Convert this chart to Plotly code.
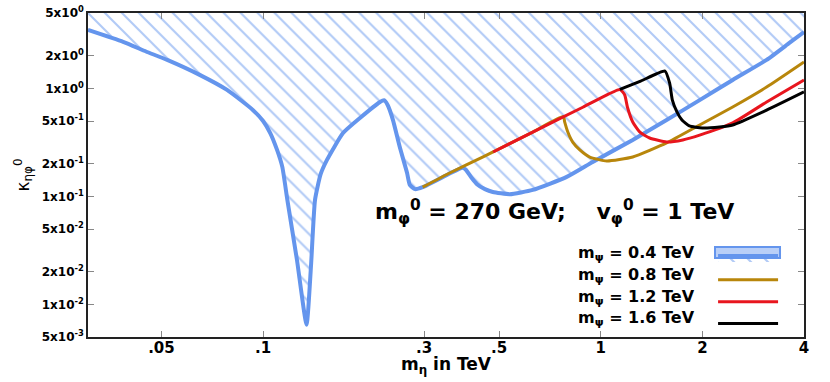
import math
import plotly.graph_objects as go

# ---- data ----
X_RANGE = [0.0303, 4.0]
Y_RANGE = [0.005, 5.0]

blue_x = [0.0303, 0.0385, 0.045, 0.052, 0.0651, 0.0782, 0.0934, 0.100, 0.105, 0.110,
          0.114, 0.118, 0.126, 0.1345, 0.1387, 0.1425, 0.148, 0.1546, 0.1725, 0.1936,
          0.222, 0.228, 0.234, 0.2425, 0.254, 0.267, 0.272, 0.282, 0.297, 0.357,
          0.39, 0.398, 0.415, 0.43, 0.454, 0.479, 0.538, 0.629, 0.793, 0.947,
          1.244, 1.567, 1.963, 2.46, 3.1, 3.62, 4.0]
blue_y = [3.48, 2.7, 2.2, 1.84, 1.33, 0.97, 0.63, 0.50, 0.387, 0.27,
          0.188, 0.093, 0.0258, 0.0065, 0.0232, 0.093, 0.16, 0.218, 0.387, 0.533,
          0.75, 0.78, 0.70, 0.51, 0.287, 0.165, 0.128, 0.117, 0.122, 0.163,
          0.185, 0.178, 0.148, 0.13, 0.117, 0.110, 0.105, 0.115, 0.152, 0.209,
          0.334, 0.51, 0.78, 1.2, 1.84, 2.64, 3.33]

gold_x = [0.297, 0.357, 0.45, 0.629, 0.775, 0.782, 0.799, 0.826, 0.867, 0.928,
          1.042, 1.244, 1.567, 1.963, 2.46, 3.1, 4.0]
gold_y = [0.122, 0.165, 0.234, 0.395, 0.55, 0.49, 0.395, 0.319, 0.27, 0.232,
          0.213, 0.232, 0.313, 0.459, 0.674, 1.03, 1.76]

red_x = [0.48, 0.629, 0.885, 1.14, 1.178, 1.20, 1.244, 1.304, 1.396, 1.567,
         1.75, 1.963, 2.46, 3.1, 4.0]
red_y = [0.258, 0.395, 0.67, 0.98, 0.87, 0.67, 0.49, 0.396, 0.348, 0.32,
         0.334, 0.37, 0.48, 0.75, 1.2]

black_x = [1.14, 1.313, 1.55, 1.6, 1.63, 1.68, 1.74, 1.83, 2.0, 2.25, 2.46, 3.1, 4.0]
black_y = [0.98, 1.17, 1.45, 1.12, 0.78, 0.61, 0.51, 0.45, 0.43, 0.44, 0.459, 0.63, 0.93]

series_names = ["m<sub>ψ</sub> = 0.4 TeV", "m<sub>ψ</sub> = 0.8 TeV",
                "m<sub>ψ</sub> = 1.2 TeV", "m<sub>ψ</sub> = 1.6 TeV"]

x_tickvals = [0.05, 0.1, 0.3, 0.5, 1, 2, 4]
x_ticktext = [".05", ".1", ".3", ".5", "1", "2", "4"]
y_tickvals = [5e-3, 1e-2, 2e-2, 5e-2, 1e-1, 2e-1, 5e-1, 1, 2, 5]
y_ticktext = ["5x10<sup>-3</sup>", "1x10<sup>-2</sup>", "2x10<sup>-2</sup>",
              "5x10<sup>-2</sup>", "1x10<sup>-1</sup>", "2x10<sup>-1</sup>",
              "5x10<sup>-1</sup>", "1x10<sup>0</sup>", "2x10<sup>0</sup>",
              "5x10<sup>0</sup>"]

BLUE = "#6495ED"
GOLD = "#B8860B"
RED = "#E8161E"
BLACK = "#000000"
FONT = "DejaVu Sans, Liberation Sans, Arial"
SMOOTH = 0.5
EPS = 1e-6

fig = go.Figure()

# upper boundary of the hatched region (top of the axis)
fig.add_trace(go.Scatter(x=X_RANGE, y=[Y_RANGE[1], Y_RANGE[1]], mode="lines",
                         line=dict(width=0, color=BLUE), showlegend=False,
                         hoverinfo="skip"))
fig.add_trace(go.Scatter(x=blue_x, y=blue_y, mode="lines", name=" ",
                         line=dict(color=BLUE, width=4, shape="spline",
                                   smoothing=SMOOTH),
                         fill="tonexty", fillcolor="rgba(0,0,0,0)",
                         fillpattern=dict(shape="\\", fgcolor=BLUE,
                                          bgcolor="rgba(255,255,255,0)",
                                          size=12, solidity=0.18)))
fig.add_trace(go.Scatter(x=gold_x, y=gold_y, mode="lines", name=" ",
                         line=dict(color=GOLD, width=3, shape="spline",
                                   smoothing=SMOOTH)))
fig.add_trace(go.Scatter(x=red_x, y=red_y, mode="lines", name=" ",
                         line=dict(color=RED, width=3, shape="spline",
                                   smoothing=SMOOTH)))
fig.add_trace(go.Scatter(x=black_x, y=black_y, mode="lines", name=" ",
                         line=dict(color=BLACK, width=3, shape="spline",
                                   smoothing=SMOOTH)))

# legend texts (to the left of the legend symbols)
leg_y = [0.259, 0.191, 0.123, 0.056]
for nm, yy in zip(series_names, leg_y):
    fig.add_annotation(x=0.8506, y=yy, xref="paper", yref="paper",
                       xanchor="right", yanchor="middle", showarrow=False,
                       text=nm, font=dict(family=FONT, size=16, color="black",
                                          weight="bold"))

# box around the hatched-region legend key
fig.add_shape(type="rect", xref="paper", yref="paper",
              x0=0.8757, x1=0.9665, y0=0.2438, y1=0.2778,
              line=dict(color=BLUE, width=2),
              fillcolor="rgba(100,149,237,0.45)", layer="above")

fig.add_annotation(x=0.652, y=0.386, xref="paper", yref="paper",
                   xanchor="center", yanchor="middle", showarrow=False,
                   text="m<sub>φ</sub><sup>0</sup> = 270 GeV;\u00a0\u00a0\u00a0\u00a0v<sub>φ</sub><sup>0</sup> = 1 TeV",
                   font=dict(family=FONT, size=22, color="black", weight="bold"))

# x-axis title
fig.add_annotation(x=0.5, y=-0.088, xref="paper", yref="paper",
                   xanchor="center", yanchor="middle", showarrow=False,
                   text="m<sub>η</sub> in TeV",
                   font=dict(family=FONT, size=17, color="black", weight="bold"))

axis_common = dict(type="log", showgrid=False, zeroline=False,
                   showline=True, linecolor="#222", linewidth=1.5,
                   mirror="ticks", ticks="inside", ticklen=6,
                   tickcolor="#888", tickwidth=1, automargin=False,
                   ticklabeloverflow="allow")

fig.update_layout(
    width=830, height=382,
    margin=dict(l=88, r=26, t=13, b=45),
    paper_bgcolor="white", plot_bgcolor="white",
    font=dict(family=FONT, color="black"),
    xaxis=dict(**axis_common,
               range=[math.log10(X_RANGE[0]), math.log10(X_RANGE[1]) + EPS],
               tickvals=x_tickvals, ticktext=x_ticktext,
               tickfont=dict(family=FONT, size=15, weight="bold"),
               ticklabelstandoff=-4),
    yaxis=dict(**axis_common,
               range=[math.log10(Y_RANGE[0]) - EPS, math.log10(Y_RANGE[1]) + EPS],
               tickvals=y_tickvals, ticktext=y_ticktext,
               ticksuffix="\u2002",
               tickfont=dict(family=FONT, size=12, weight="bold"),
               title=dict(text="κ<sub>ηφ</sub><sup>0</sup>", standoff=8,
                          font=dict(family=FONT, size=17))),
    legend=dict(x=0.873, y=0.293, xanchor="left", yanchor="top",
                bgcolor="rgba(0,0,0,0)", borderwidth=0, traceorder="normal",
                font=dict(family=FONT, size=14.5), itemwidth=60,
                tracegroupgap=0),
    showlegend=True,
)

# remove the default 8px page margin so the figure fills the window exactly
fig.write_html("out.html", config={"displayModeBar": False},
               post_script="document.body.style.margin='0';")
